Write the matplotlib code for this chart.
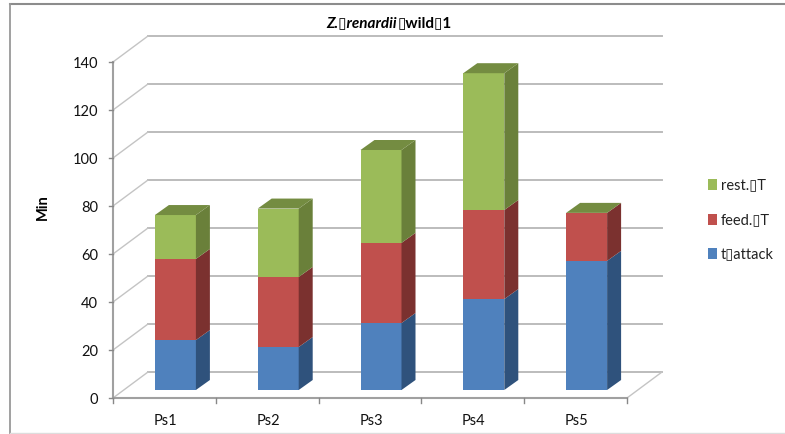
import matplotlib
matplotlib.use("Agg")
import matplotlib.pyplot as plt
from matplotlib.patches import Polygon

categories = ["Ps1", "Ps2", "Ps3", "Ps4", "Ps5"]
t_attack = [20.8, 17.9, 27.9, 37.9, 53.8]
feed = [33.8, 29.2, 33.4, 37.1, 20]
rest = [18.3, 28.5, 38.7, 57, 0]
yticks = [0, 20, 40, 60, 80, 100, 120, 140]

W, H = 785, 434
X0, UX = 113, 102.8      # px of category origin / px per category
Y0, UY = 398, 2.4        # px of value 0 / px per Min
FAMILY = ["Lato", "DejaVu Sans"]
TOFU = "\u25af"

fig = plt.figure(figsize=(W / 100, H / 100), dpi=100)
ax = fig.add_axes([0, 0, 1, 1])
ax.set_xlim(-X0 / UX, (W - X0) / UX)
ax.set_ylim(-(H - Y0) / UY, Y0 / UY)
ax.axis("off")

dx = lambda px: px / UX
dy = lambda px: px / UY
px_x = lambda p: (p - X0) / UX
px_y = lambda p: (Y0 - p) / UY
GRID = "#bcbcbc"
AXC = "#a0a0a0"
DX, DY = dx(35), dy(26)
n = len(categories)

# chart frame (top and left dark, bottom faint, nothing at right)
ax.plot([px_x(9.5), px_x(785)], [px_y(4), px_y(4)], color="#8c8c8c", lw=1.5, zorder=0)
ax.plot([px_x(9.5), px_x(9.5)], [px_y(4), px_y(434)], color="#999999", lw=1.3, zorder=0)
ax.plot([px_x(9.5), px_x(785)], [px_y(432.5), px_y(432.5)], color="#dddddd", lw=1.0, zorder=0)

# walls
for v in yticks:
    ax.plot([DX, n + DX], [v + DY, v + DY], color=GRID, lw=1.4, zorder=1)
    ax.plot([0, DX], [v, v + DY], color="#c4c4c4", lw=1.0, zorder=1)
ax.plot([n, n + DX], [0, DY], color="#c4c4c4", lw=1.0, zorder=1)
# axes lines
ax.plot([0, 0], [0, 140], color=AXC, lw=1.5, zorder=2)
ax.plot([0, n], [0, 0], color=AXC, lw=1.5, zorder=2)
for v in yticks:
    ax.plot([-dx(4), 0], [v, v], color="#888888", lw=1.0, zorder=2)
    ax.text(-dx(15), v - dy(2), str(v), ha="right", va="center",
            fontsize=10.5, family=FAMILY, color="#111111")
for i in range(n + 1):
    ax.plot([i, i], [0, -dy(5)], color="#888888", lw=1.0, zorder=2)
for i, c in enumerate(categories):
    ax.text(i + 0.5 + dx(1), -dy(23), c, ha="center", va="center", fontsize=10.5,
            family=FAMILY, color="#111111")

# bars
series = [
    ("t\u25afattack", t_attack, "#4f81bd", "#2f527c"),
    ("feed.\u25afT", feed, "#c0504d", "#7b312f"),
    ("rest.\u25afT", rest, "#9bbb59", "#6a803a"),
]
bw = dx(41)
ox, oy = dx(11), dy(8)          # bar front offset from the floor front edge
bdx, bdy = dx(14), dy(10)       # bar depth
bottom = [0] * n
for name, vals, front, side in series:
    for i in range(n):
        left = i + 0.5 + ox - bw / 2
        b = bottom[i] + oy
        t = b + vals[i]
        r = left + bw
        ax.bar(left, vals[i], bw, bottom=b, align="edge", color=front, lw=0, zorder=5)
        ax.add_patch(Polygon([(r, b), (r + bdx, b + bdy), (r + bdx, t + bdy), (r, t)],
                             fc=side, ec="none", zorder=5))
    bottom = [a + v for a, v in zip(bottom, vals)]
for i in range(n):
    left = i + 0.5 + ox - bw / 2
    t = bottom[i] + oy
    ax.add_patch(Polygon([(left, t), (left + bw, t), (left + bw + bdx, t + bdy), (left + bdx, t + bdy)],
                         fc="#748c41", ec="none", zorder=6))

# legend
for (name, vals, front, side), py in zip(series[::-1], [184.5, 219.5, 253.5]):
    ax.add_patch(plt.Rectangle((px_x(708), px_y(py) - dy(5.5)), dx(9), dy(11), fc=front, ec="none"))
    ax.text(px_x(721), px_y(py + 1), name, va="center", ha="left", fontsize=10.5,
            family=FAMILY, color="#222222")

# labels
ax.text(px_x(43), px_y(207), "Min", rotation=90, ha="center", va="center",
        fontsize=10.5, fontweight="bold", family=FAMILY)
yt = px_y(23)
t1 = ax.text(px_x(326), yt, "Z." + TOFU + "renardii", ha="left", va="center", fontsize=11,
             fontweight="bold", style="italic", family=FAMILY)
fig.canvas.draw()
ext = t1.get_window_extent()
ax.text(px_x(ext.x1 + 1), yt, TOFU + "wild" + TOFU + "1", ha="left", va="center", fontsize=11,
        fontweight="bold", family=FAMILY)

fig.savefig("out.png", dpi=100)
